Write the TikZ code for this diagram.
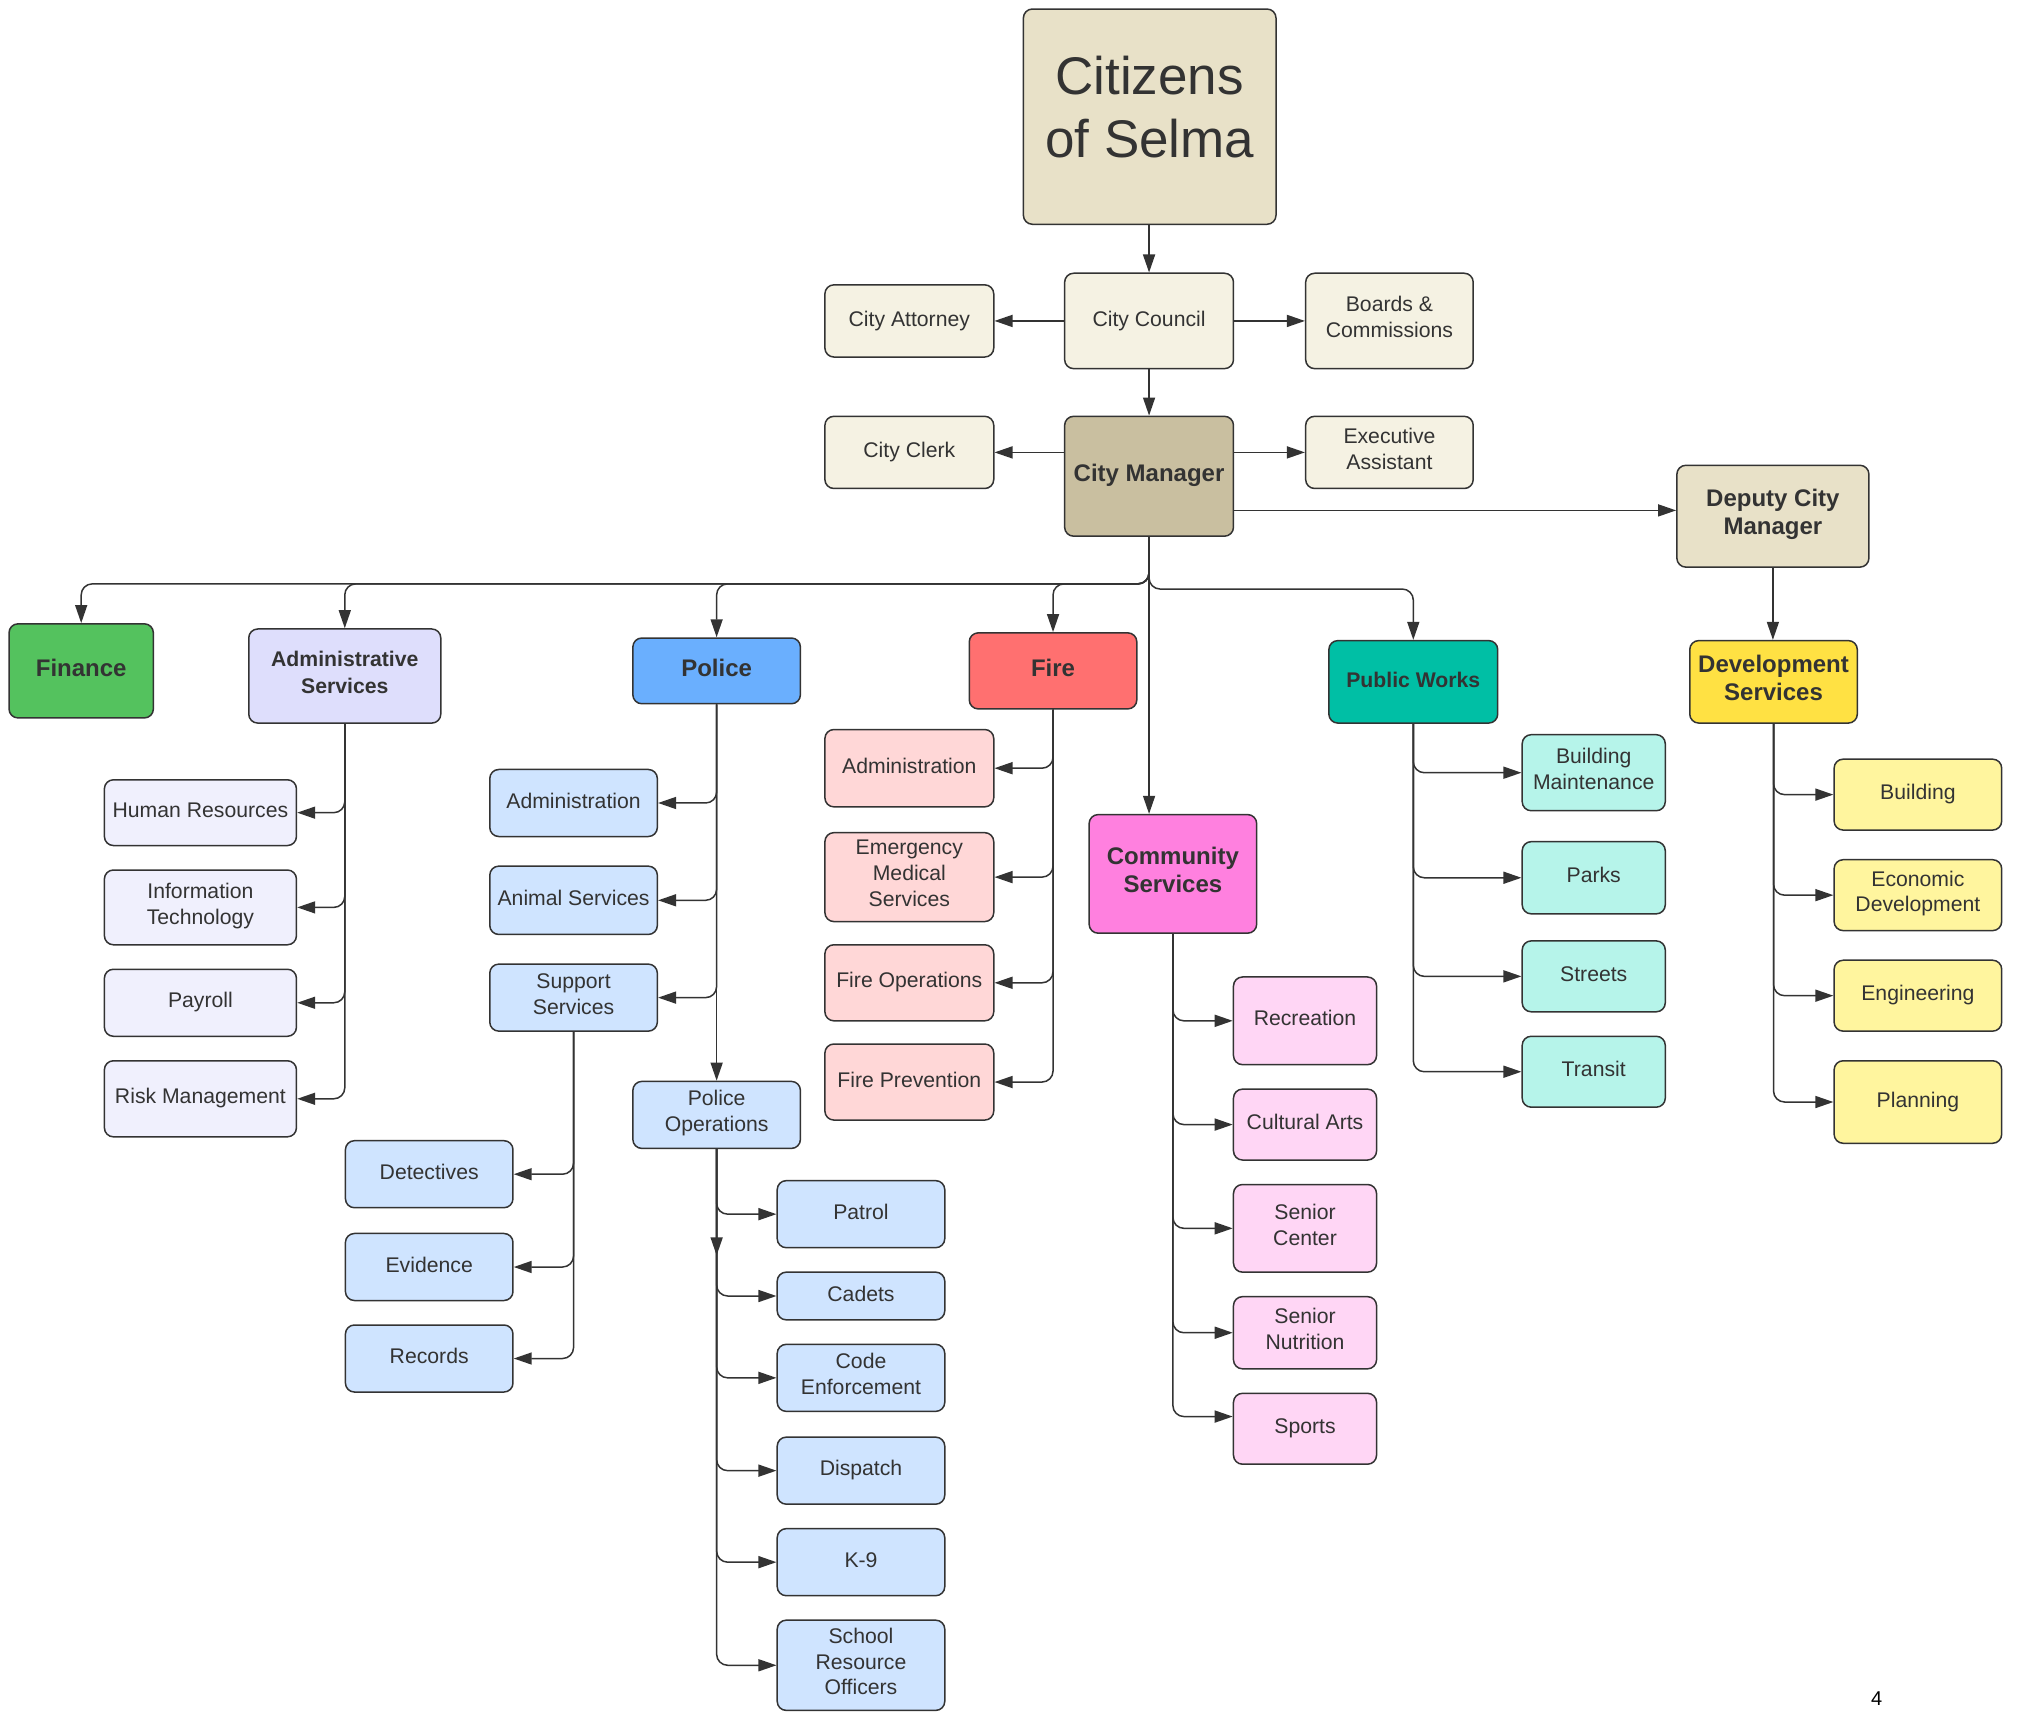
\documentclass[tikz,border=0pt]{standalone}
\usepackage{fontspec}
\setmainfont{Liberation Sans}
\usetikzlibrary{arrows.meta}
\def\U{0.64445pt}
\definecolor{tx}{HTML}{333333}
\definecolor{ln}{HTML}{333333}
\definecolor{cCit}{HTML}{E8E1C8}
\definecolor{cPale}{HTML}{F5F2E3}
\definecolor{cMgr}{HTML}{C9BFA0}
\definecolor{cFin}{HTML}{54C25E}
\definecolor{cAdmH}{HTML}{DEDEFC}
\definecolor{cAdmC}{HTML}{F0F0FD}
\definecolor{cPolH}{HTML}{6AAFFE}
\definecolor{cPolC}{HTML}{CFE4FF}
\definecolor{cFireH}{HTML}{FF7070}
\definecolor{cFireC}{HTML}{FFD7D7}
\definecolor{cComH}{HTML}{FF80DF}
\definecolor{cComC}{HTML}{FFD6F5}
\definecolor{cPwH}{HTML}{00BFA5}
\definecolor{cPwC}{HTML}{B6F4EA}
\definecolor{cDevH}{HTML}{FFE143}
\definecolor{cDevC}{HTML}{FFF59E}
\newcommand\freg{\fontsize{10.6}{12.9}\selectfont}
\newcommand\fhb{\bfseries\fontsize{12}{14.2}\selectfont}
\newcommand\fsb{\bfseries\fontsize{10.6}{13.5}\selectfont}
\newcommand\fcit{\fontsize{26.5}{31.6}\selectfont}
\newcommand\fpn{\fontsize{10}{12}\selectfont}
\newcommand\bx[7]{\node[box,#2,minimum width={(#5-#3)*\U},minimum height={(#6-#4)*\U}] (#1) at ({(#3+#5)/2},{(#4+#6)/2}) {#7};}
\tikzset{
  box/.style={draw=ln, line width=0.75pt, rounded corners=4.5pt, align=center, text=tx,
    inner sep=1pt, font=\freg, execute at begin node=\strut,
    execute at end node={\rule[-1.3pt]{0pt}{1pt}}},
  arr/.style={draw=ln, line width=0.75pt, -{Triangle[length=9pt,width=6pt]}, rounded corners=5.5pt},
}
\begin{document}
\begin{tikzpicture}[x=\U, y=-\U]
\useasboundingbox[fill=white] (0,0) rectangle (1568,1334);
% top
\bx{cit}{fill=cCit, font=\fcit}{794}{7}{990}{174}{Citizens\\of Selma}
\bx{council}{fill=cPale}{826}{212}{957}{286}{City Council}
\bx{att}{fill=cPale}{640}{221}{771}{277}{City Attorney}
\bx{boards}{fill=cPale}{1013}{212}{1143}{286}{Boards \&\\Commissions}
\bx{mgr}{fill=cMgr, font=\fhb}{826}{323}{957}{416}{City Manager}
\bx{clerk}{fill=cPale}{640}{323}{771}{379}{City Clerk}
\bx{exec}{fill=cPale}{1013}{323}{1143}{379}{Executive\\Assistant}
\bx{dep}{fill=cCit, font=\fhb}{1301}{361}{1450}{440}{Deputy City\\Manager}
% departments
\bx{fin}{fill=cFin, font=\fhb}{7}{484}{119}{557}{Finance}
\bx{adm}{fill=cAdmH, font=\fsb}{193}{488}{342}{561}{Administrative\\Services}
\bx{pol}{fill=cPolH, font=\fhb}{491}{495}{621}{546}{Police}
\bx{fire}{fill=cFireH, font=\fhb}{752}{491}{882}{550}{Fire}
\bx{comm}{fill=cComH, font=\fhb}{845}{632}{975}{724}{Community\\Services}
\bx{pw}{fill=cPwH, font=\fsb}{1031}{497}{1162}{561}{Public Works}
\bx{dev}{fill=cDevH, font=\fhb}{1311}{497}{1441}{561}{Development\\Services}
% admin children
\bx{hr}{fill=cAdmC}{81}{605}{230}{656}{Human Resources}
\bx{it}{fill=cAdmC}{81}{675}{230}{733}{Information\\Technology}
\bx{pay}{fill=cAdmC}{81}{752}{230}{804}{Payroll}
\bx{risk}{fill=cAdmC}{81}{823}{230}{882}{Risk Management}
% police children
\bx{padm}{fill=cPolC}{380}{597}{510}{649}{Administration}
\bx{anim}{fill=cPolC}{380}{672}{510}{725}{Animal Services}
\bx{sup}{fill=cPolC}{380}{748}{510}{800}{Support\\Services}
\bx{pops}{fill=cPolC}{491}{839}{621}{891}{Police\\Operations}
\bx{det}{fill=cPolC}{268}{885}{398}{937}{Detectives}
\bx{evi}{fill=cPolC}{268}{957}{398}{1009}{Evidence}
\bx{recs}{fill=cPolC}{268}{1028}{398}{1080}{Records}
\bx{patrol}{fill=cPolC}{603}{916}{733}{968}{Patrol}
\bx{cadets}{fill=cPolC}{603}{987}{733}{1024}{Cadets}
\bx{code}{fill=cPolC}{603}{1043}{733}{1095}{Code\\Enforcement}
\bx{disp}{fill=cPolC}{603}{1115}{733}{1167}{Dispatch}
\bx{kn}{fill=cPolC}{603}{1186}{733}{1238}{K-9}
\bx{sro}{fill=cPolC}{603}{1257}{733}{1327}{School\\Resource\\Officers}
% fire children
\bx{fadm}{fill=cFireC}{640}{566}{771}{626}{Administration}
\bx{ems}{fill=cFireC}{640}{646}{771}{715}{Emergency\\Medical\\Services}
\bx{fops}{fill=cFireC}{640}{733}{771}{792}{Fire Operations}
\bx{fprev}{fill=cFireC}{640}{810}{771}{869}{Fire Prevention}
% community children
\bx{recr}{fill=cComC}{957}{758}{1068}{826}{Recreation}
\bx{cult}{fill=cComC}{957}{845}{1068}{900}{Cultural Arts}
\bx{senc}{fill=cComC}{957}{919}{1068}{987}{Senior\\Center}
\bx{senn}{fill=cComC}{957}{1006}{1068}{1062}{Senior\\Nutrition}
\bx{sports}{fill=cComC}{957}{1081}{1068}{1136}{Sports}
% public works children
\bx{bm}{fill=cPwC}{1181}{570}{1292}{629}{Building\\Maintenance}
\bx{parks}{fill=cPwC}{1181}{653}{1292}{709}{Parks}
\bx{streets}{fill=cPwC}{1181}{730}{1292}{785}{Streets}
\bx{transit}{fill=cPwC}{1181}{804}{1292}{859}{Transit}
% development children
\bx{bld}{fill=cDevC}{1423}{589}{1553}{644}{Building}
\bx{econ}{fill=cDevC}{1423}{667}{1553}{722}{Economic\\Development}
\bx{eng}{fill=cDevC}{1423}{745}{1553}{800}{Engineering}
\bx{plan}{fill=cDevC}{1423}{823}{1553}{887}{Planning}
% page number
\node[font=\fpn, text=black, inner sep=0pt] (pg) at (1456,1318) {4};
% connectors: top
\draw[arr] (council.north |- cit.south) -- (council.north);
\draw[arr] (council.west) -- (att.east);
\draw[arr] (council.east) -- (boards.west);
\draw[arr] (council.south) -- (mgr.north);
\draw[arr] (mgr.west |- clerk.east) -- (clerk.east);
\draw[arr] (mgr.east |- exec.west) -- (exec.west);
\draw[arr] (mgr.east |- 0,396) -- (dep.west |- 0,396);
\draw[arr] (dep.south) -- (dep.south |- dev.north);
% buses
\coordinate (busL) at (mgr.south |- 0,453);
\coordinate (busR) at (mgr.south |- 0,457);
\draw[arr] (mgr.south) -- (busL) -| (fin.north);
\draw[arr] (mgr.south) -- (busL) -| (adm.north);
\draw[arr] (mgr.south) -- (busL) -| (pol.north);
\draw[arr] (mgr.south) -- (busL) -| (fire.north);
\draw[arr] (mgr.south) -- (mgr.south |- comm.north);
\draw[arr] (mgr.south) -- (busR) -| (pw.north);
% admin
\foreach \c in {hr,it,pay,risk} \draw[arr] (adm.south) |- (\c.east);
% police
\foreach \c in {padm,anim,sup} \draw[arr] (pol.south) |- (\c.east);
\draw[arr] (pol.south) -- (pops.north);
\foreach \c in {det,evi,recs} \draw[arr] (sup.south) |- (\c.east);
\coordinate (popsMid) at (pops.south |- 0,974);
\draw[arr] (pops.south) -- (popsMid);
\foreach \c in {patrol,cadets,code,disp,kn,sro} \draw[arr] (pops.south) |- (\c.west);
% fire
\foreach \c in {fadm,ems,fops,fprev} \draw[arr] (fire.south) |- (\c.east);
% community
\foreach \c in {recr,cult,senc,senn} \draw[arr] (comm.south) |- (\c.west);
\draw[arr] (comm.south) |- ([yshift=6.1pt]sports.west);
% public works
\foreach \c in {bm,parks,streets,transit} \draw[arr] (pw.south) |- (\c.west);
% development
\foreach \c in {bld,econ,eng,plan} \draw[arr] (dev.south) |- (\c.west);
\end{tikzpicture}
\end{document}
